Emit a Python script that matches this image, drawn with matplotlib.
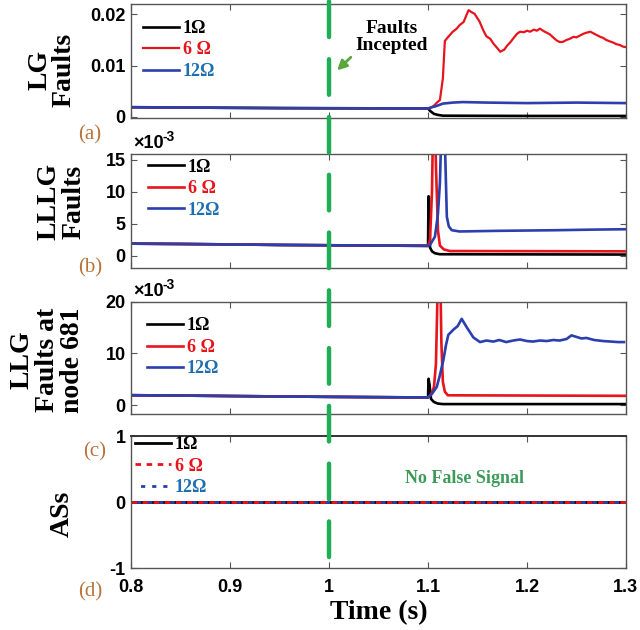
import numpy as np
import matplotlib
matplotlib.use("Agg")
import matplotlib.pyplot as plt
import matplotlib.transforms as mtransforms
from matplotlib.lines import Line2D

plt.rcParams["axes.unicode_minus"] = False

# ---- data ----
# common pre-fault segment (same for all resistances)
t_pre = [0.8, 0.85, 0.9, 0.95, 1.0, 1.05, 1.1]
lg_pre = [0.0019, 0.00185, 0.00178, 0.00173, 0.0017, 0.00168, 0.00166]
lllg_pre = [1.9, 1.85, 1.78, 1.7, 1.65, 1.6, 1.56]      # x1e-3
llg_pre = [1.92, 1.85, 1.76, 1.68, 1.6, 1.54, 1.48]      # x1e-3

# (a) LG faults
lg_t_1 = [1.102, 1.106, 1.11, 1.115, 1.2, 1.3]
lg_y_1 = [0.0012, 0.0006, 0.0004, 0.00025, 0.0002, 0.0002]
lg_t_6 = [1.102, 1.106, 1.109, 1.112, 1.115, 1.117, 1.12, 1.125, 1.129, 1.132, 1.136,
          1.139, 1.141, 1.144, 1.147, 1.15, 1.152, 1.156, 1.159, 1.163, 1.166, 1.17,
          1.173, 1.177, 1.18, 1.183, 1.187, 1.19, 1.193, 1.197, 1.2, 1.203, 1.207,
          1.21, 1.213, 1.217, 1.22, 1.223, 1.227, 1.23, 1.233, 1.236, 1.24, 1.243,
          1.247, 1.25, 1.254, 1.257, 1.26, 1.264, 1.267, 1.27, 1.274, 1.277, 1.28,
          1.284, 1.287, 1.29, 1.294, 1.297, 1.3]
lg_y_6 = [0.0017, 0.0022, 0.0028, 0.0033, 0.0075, 0.0148, 0.0155, 0.0166, 0.0172, 0.0179,
          0.0185, 0.0199, 0.0208, 0.0204, 0.0201, 0.0192, 0.0186, 0.0168, 0.0157, 0.0152,
          0.0143, 0.0134, 0.0127, 0.0131, 0.0139, 0.0145, 0.0155, 0.0162, 0.0166, 0.0165,
          0.0168, 0.0166, 0.0170, 0.0168, 0.0172, 0.0167, 0.0164, 0.0161, 0.0154, 0.0149,
          0.0146, 0.0146, 0.0150, 0.0152, 0.0156, 0.0155, 0.0159, 0.0162, 0.0164, 0.0166,
          0.0163, 0.0160, 0.0156, 0.0154, 0.0150, 0.0147, 0.0145, 0.0142, 0.0140, 0.0137,
          0.0136]
lg_t_12 = [1.102, 1.108, 1.115, 1.125, 1.135, 1.16, 1.2, 1.25, 1.3]
lg_y_12 = [0.0018, 0.0021, 0.0026, 0.0028, 0.0029, 0.0028, 0.0027, 0.0028, 0.0027]

# (b) LLLG faults, x1e-3
lllg_t_1 = [1.1005, 1.101, 1.102, 1.104, 1.107, 1.112, 1.3]
lllg_y_1 = [9.3, 9.2, 1.3, 0.7, 0.4, 0.25, 0.2]
lllg_t_6 = [1.102, 1.104, 1.106, 1.108, 1.110, 1.112, 1.116, 1.122, 1.3]
lllg_y_6 = [2.5, 10.0, 30.0, 14.0, 4.0, 1.6, 1.0, 0.75, 0.7]
lllg_t_12 = [1.102, 1.107, 1.110, 1.112, 1.1145, 1.117, 1.119, 1.121, 1.124, 1.132,
             1.15, 1.17, 1.2, 1.23, 1.25, 1.27, 1.3]
lllg_y_12 = [1.7, 3.0, 6.5, 11.4, 25.0, 18.0, 6.1, 4.6, 4.0, 3.8,
             3.85, 3.9, 3.95, 4.0, 4.05, 4.1, 4.15]

# (c) LLG faults at node 681, x1e-3
llg_t_1 = [1.1005, 1.1015, 1.103, 1.106, 1.11, 1.115, 1.3]
llg_y_1 = [5.1, 4.0, 1.2, 0.6, 0.3, 0.2, 0.2]
llg_t_6 = [1.103, 1.106, 1.108, 1.110, 1.112, 1.1135, 1.115, 1.117, 1.12, 1.3]
llg_y_6 = [2.0, 3.5, 8.0, 25.0, 30.0, 12.0, 4.5, 2.6, 1.9, 1.8]
llg_t_12 = [1.104, 1.1088, 1.112, 1.1155, 1.118, 1.1205, 1.1256, 1.13, 1.134, 1.139,
            1.1458, 1.1525, 1.159, 1.166, 1.172, 1.179, 1.186, 1.193, 1.2, 1.206,
            1.213, 1.22, 1.2266, 1.233, 1.24, 1.245, 1.25, 1.255, 1.26, 1.268,
            1.277, 1.285, 1.292, 1.298]
llg_y_12 = [2.2, 3.5, 5.8, 8.7, 11.5, 13.6, 14.6, 15.3, 16.7, 15.1,
            13.1, 12.2, 12.5, 12.3, 12.6, 12.2, 12.5, 12.7, 12.4, 12.3,
            12.5, 12.4, 12.6, 12.5, 12.8, 13.5, 13.2, 12.9, 13.0, 12.6,
            12.4, 12.3, 12.2, 12.2]

# (d) ASs
as_t = [0.8, 1.3]
as_y = [0.0, 0.0]

labels = ["1\u03a9", "6 \u03a9", "12\u03a9"]
line_colors = ["black", "#e8141c", "#2b3fae"]
text_colors = ["black", "#e8141c", "#1f6fb0"]
t_fault = 1.0

serif = "Liberation Serif"
sans = "Liberation Sans"

fig = plt.figure(figsize=(6.4, 6.3), dpi=100)
L, W = 0.205, 0.773
ax_a = fig.add_axes([L, 0.8127, W, 0.181])
ax_b = fig.add_axes([L, 0.5746, W, 0.181])
ax_c = fig.add_axes([L, 0.343, W, 0.178])
ax_d = fig.add_axes([L, 0.0984, W, 0.2095])
axes = [ax_a, ax_b, ax_c, ax_d]

def series(pre, t, y):
    return t_pre + t, pre + y

lw = 1.9
ax_a.plot(*series(lg_pre, lg_t_1, lg_y_1), color=line_colors[0], lw=lw, label=labels[0])
ax_a.plot(*series(lg_pre, lg_t_6, lg_y_6), color=line_colors[1], lw=1.6, label=labels[1])
ax_a.plot(*series(lg_pre, lg_t_12, lg_y_12), color=line_colors[2], lw=lw, label=labels[2])

ax_b.plot(*series(lllg_pre, lllg_t_1, lllg_y_1), color=line_colors[0], lw=lw, label=labels[0])
ax_b.plot(*series(lllg_pre, lllg_t_6, lllg_y_6), color=line_colors[1], lw=lw, label=labels[1])
ax_b.plot(*series(lllg_pre, lllg_t_12, lllg_y_12), color=line_colors[2], lw=lw, label=labels[2])

ax_c.plot(*series(llg_pre, llg_t_1, llg_y_1), color=line_colors[0], lw=lw, label=labels[0])
ax_c.plot(*series(llg_pre, llg_t_6, llg_y_6), color=line_colors[1], lw=lw, label=labels[1])
ax_c.plot(*series(llg_pre, llg_t_12, llg_y_12), color=line_colors[2], lw=lw, label=labels[2])

ax_d.plot(as_t, as_y, color=line_colors[0], lw=2.0, label=labels[0])
ax_d.plot(as_t, as_y, color=line_colors[1], lw=2.0, ls=(0, (2, 2)), label=labels[1])
ax_d.plot(as_t, as_y, color=line_colors[2], lw=2.0, ls=(2, (1.5, 2.5)), label=labels[2])

ax_a.set_ylim(-0.0002, 0.022)
ax_a.set_yticks([0, 0.01, 0.02])
ax_a.set_yticklabels(["0", "0.01", "0.02"])
ax_b.set_ylim(-1.9, 15.9)
ax_b.set_yticks([0, 5, 10, 15])
ax_c.set_ylim(-1.7, 20)
ax_c.set_yticks([0, 10, 20])
ax_d.set_ylim(-1, 1)
ax_d.set_yticks([-1, 0, 1])

for ax in axes:
    ax.set_xlim(0.8, 1.3)
    ax.set_xticks([0.8, 0.9, 1.0, 1.1, 1.2, 1.3])
    ax.tick_params(direction="in", top=True, right=True, length=4, width=0.8,
                   color="#555555", labelsize=13, pad=4)
    for lab in ax.get_yticklabels():
        lab.set_fontfamily(sans)
        lab.set_fontweight("bold")
    for s in ax.spines.values():
        s.set_color("#555555")
        s.set_linewidth(1.0)
    if ax is not ax_d:
        ax.set_xticklabels([])
ax_d.spines["top"].set_color("#333333")
ax_d.spines["top"].set_linewidth(1.4)

ax_d.set_xticklabels(["0.8", "0.9", "1", "1.1", "1.2", "1.3"])
ax_d.tick_params(axis="x", pad=8)
for lab in ax_d.get_xticklabels():
    lab.set_fontfamily(sans)
    lab.set_fontweight("bold")
ax_d.set_xlabel("Time (s)", fontsize=20, fontweight="bold", family=serif, labelpad=3)

# x10^-3 multipliers
for ax in [ax_b, ax_c]:
    ax.text(0.005, 1.02, "\u00d710", transform=ax.transAxes,
            fontsize=13, fontweight="bold", family=sans, ha="left", va="bottom")
    ax.text(0.064, 1.09, "-3", transform=ax.transAxes,
            fontsize=10, fontweight="bold", family=sans, ha="left", va="bottom")

# y labels
ylab = dict(rotation=90, ha="center", va="center", fontsize=20, fontweight="bold",
            family=serif, multialignment="center", linespacing=1.0)
ax_a.text(-0.16, 0.42, "LG\nFaults", transform=ax_a.transAxes, **ylab)
ax_b.text(-0.141, 0.58, "LLLG\nFaults", transform=ax_b.transAxes, **ylab)
ax_c.text(-0.17, 0.48, "LLG\nFaults at\nnode 681", transform=ax_c.transAxes, **ylab)
ax_d.text(-0.14, 0.41, "ASs", transform=ax_d.transAxes, **ylab)

# panel letters
pl = dict(ha="center", va="center", fontsize=15, family=serif, color="#b8733a")
ax_a.text(-0.083, -0.15, "(a)", transform=ax_a.transAxes, **pl)
ax_b.text(-0.083, 0.0, "(b)", transform=ax_b.transAxes, **pl)
ax_c.text(-0.073, -0.34, "(c)", transform=ax_c.transAxes, **pl)
ax_d.text(-0.083, -0.18, "(d)", transform=ax_d.transAxes, **pl)

# legends
leg_pos = {ax_a: (0.024, 0.86), ax_b: (0.034, 0.96), ax_c: (0.032, 0.86), ax_d: (0.008, 1.0)}
for ax in axes:
    leg = ax.legend(loc="upper left", bbox_to_anchor=leg_pos[ax], frameon=False,
                    borderpad=0, borderaxespad=0, handlelength=2.0, handletextpad=0.2,
                    labelspacing=0.25, prop={"family": serif, "weight": "bold", "size": 13})
    for txt, c in zip(leg.get_texts(), text_colors):
        txt.set_color(c)

# fault inception line across all panels
trans = mtransforms.blended_transform_factory(ax_d.transData, fig.transFigure)
fig.add_artist(Line2D([t_fault, t_fault], [0.116, 1.0], transform=trans,
                      color="#1fae55", lw=3.2, ls=(0, (8, 5)), solid_capstyle="round",
                      dash_capstyle="round"))

ax_a.text(1.0636, 0.0155, "Faults\nIncepted", ha="center", va="center", fontsize=14,
          fontweight="bold", family=serif, linespacing=1.0)
ax_a.annotate("", xy=(1.006, 0.0087), xytext=(1.024, 0.012),
              arrowprops=dict(arrowstyle="-|>", color="#5aa83c", lw=2, mutation_scale=14))

ax_d.text(1.137, 0.36, "No False Signal", ha="center", va="center", fontsize=13,
          fontweight="bold", family=serif, color="#3d9b5a")

fig.savefig("out.png", dpi=100)
